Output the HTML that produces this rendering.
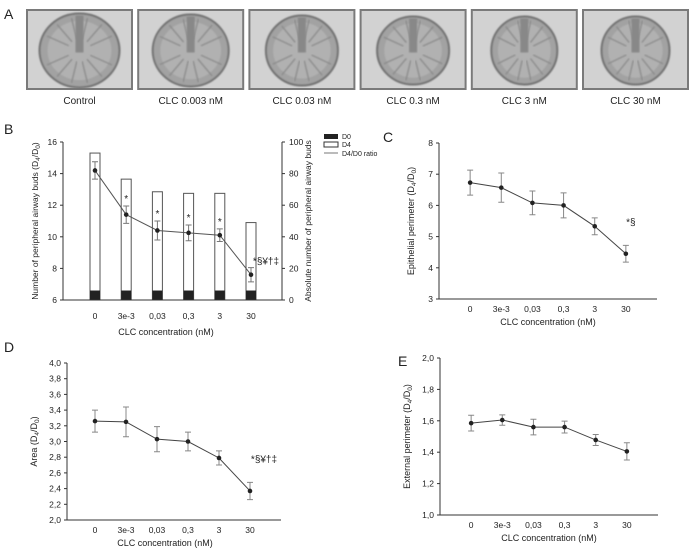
<!DOCTYPE html>
<html><head><meta charset="utf-8">
<style>
body{margin:0;background:#fff;width:689px;height:553px;overflow:hidden;font-family:"Liberation Sans",sans-serif;}
svg text{font-family:"Liberation Sans",sans-serif;fill:#222;}
</style></head>
<body>
<svg id="fig" width="689" height="553" viewBox="0 0 689 553" xmlns="http://www.w3.org/2000/svg">
<defs>
<filter id="blur1"><feGaussianBlur stdDeviation="0.8"/></filter>
</defs>
<text x="4" y="19" font-size="14">A</text>
<g id="photos"></g>
<text x="4" y="134" font-size="14">B</text>
<text x="383" y="142" font-size="14">C</text>
<text x="4" y="352" font-size="14">D</text>
<text x="398" y="366" font-size="14">E</text>
<g id="chartB"></g>
<g id="chartC"></g>
<g id="chartD"></g>
<g id="chartE"></g>
</svg>
<script>
const categories = ["0","3e-3","0,03","0,3","3","30"];
const photoLabels = ["Control","CLC 0.003 nM","CLC 0.03 nM","CLC 0.3 nM","CLC 3 nM","CLC 30 nM"];
// Panel B
const bD0 = [6,6,6,6,6,6];
const bD4 = [93,76.5,68.5,67.5,67.5,49];
const bRatio = [14.2,11.4,10.4,10.25,10.1,7.6];
const bRatioErr = [0.55,0.55,0.6,0.5,0.4,0.45];
const bAnnot = ["","*","*","*","*","*§¥†‡"];
const bLeftTicks = ["6","8","10","12","14","16"];
const bRightTicks = ["0","20","40","60","80","100"];
// Panel C
const cVals = [6.73,6.57,6.08,6.0,5.33,4.45];
const cErr = [0.4,0.47,0.38,0.4,0.27,0.27];
const cAnnot = ["","","","","","*§"];
const cTicks = ["3","4","5","6","7","8"];
// Panel D
const dVals = [3.26,3.25,3.03,3.0,2.79,2.37];
const dErr = [0.14,0.19,0.16,0.12,0.09,0.11];
const dAnnot = ["","","","","","*§¥†‡"];
const dTicks = ["2,0","2,2","2,4","2,6","2,8","3,0","3,2","3,4","3,6","3,8","4,0"];
// Panel E
const eVals = [1.585,1.605,1.56,1.56,1.478,1.405];
const eErr = [0.05,0.033,0.05,0.038,0.035,0.055];
const eTicks = ["1,0","1,2","1,4","1,6","1,8","2,0"];

const NS="http://www.w3.org/2000/svg";
function mk(parent,tag,attrs,text){const e=document.createElementNS(NS,tag);for(const k in attrs)e.setAttribute(k,attrs[k]);if(text!==undefined)e.textContent=text;parent.appendChild(e);return e;}

// Photos
const ph=document.getElementById('photos');
photoLabels.forEach((lab,i)=>{
  const x=27+i*111.2, y=10, w=105, h=79;
  const g=mk(ph,'g',{});
  
  
  mk(g,'rect',{x:x,y:y,width:w,height:h,fill:'#d2d2d2',stroke:'#7a7a7a','stroke-width':2});
  const cx=x+w/2, cy=y+h/2+1;
  const rx=[40,38,36,36,33,34][i], ry=[37,36,35,34,34,34][i];
  mk(g,'ellipse',{cx:cx,cy:cy,rx:rx,ry:ry,fill:'#a2a2a2',stroke:'#707070','stroke-width':2,filter:'url(#blur1)'});
  mk(g,'ellipse',{cx:cx,cy:cy,rx:rx*0.8,ry:ry*0.8,fill:'#b8b8b8',opacity:0.7,filter:'url(#blur1)'});
  for(let k=0;k<14;k++){const a=k/14*Math.PI*2;
    mk(g,'line',{x1:cx+Math.cos(a)*rx*0.3,y1:cy+Math.sin(a)*ry*0.3,x2:cx+Math.cos(a)*rx*0.9,y2:cy+Math.sin(a)*ry*0.9,stroke:'#8a8a8a','stroke-width':1.3,filter:'url(#blur1)'});}
  mk(g,'rect',{x:cx-4,y:cy-ry+2,width:8,height:ry,fill:'#888',filter:'url(#blur1)'});
  const t=mk(g,'text',{x:cx,y:104,'font-size':10,'text-anchor':'middle'},lab);
  
  
});

function lineChart(gid,o){
  const g=document.getElementById(gid);
  const xs=i=>o.x0+(o.x1-o.x0)*(i+1)/(categories.length+1);
  const ys=v=>o.yB+(v-o.min)/(o.max-o.min)*(o.yT-o.yB);
  const ya=mk(g,'line',{x1:o.ax,y1:o.yT,x2:o.ax,y2:o.yB,stroke:'#333','stroke-width':1});
  
  const xa=mk(g,'line',{x1:o.ax,y1:o.yB,x2:o.x1,y2:o.yB,stroke:'#333','stroke-width':1});
  
  o.ticks.forEach((t,i)=>{const y=o.yB+(o.yT-o.yB)*i/(o.ticks.length-1);
    mk(g,'line',{x1:o.ax-3,y1:y,x2:o.ax,y2:y,stroke:'#333'});
    const tt=mk(g,'text',{x:o.ax-6,y:y+3,'font-size':8.5,'text-anchor':'end'},t);
    });
  categories.forEach((c,i)=>{const tt=mk(g,'text',{x:xs(i),y:o.yB+13,'font-size':8.5,'text-anchor':'middle'},c);
    });
  const xt=mk(g,'text',{x:o.titleX,y:o.yB+26,'font-size':9,'text-anchor':'middle'},'CLC concentration (nM)');
  
  const yt=mk(g,'text',{x:0,y:0,'font-size':9,'text-anchor':'middle',transform:`translate(${o.ytX},${(o.yT+o.yB)/2}) rotate(-90)`});
  yt.innerHTML=o.ytitle;
  
  let pts=o.vals.map((v,i)=>xs(i)+','+ys(v)).join(' ');
  const pl=mk(g,'polyline',{points:pts,fill:'none',stroke:'#444','stroke-width':1});
  
  o.vals.forEach((v,i)=>{const x=xs(i),e=o.err[i];
    const eb=mk(g,'path',{d:`M${x},${ys(v-e)}V${ys(v+e)}M${x-3},${ys(v-e)}h6M${x-3},${ys(v+e)}h6`,stroke:'#888','stroke-width':1,fill:'none'});
    
    const p=mk(g,'circle',{cx:x,cy:ys(v),r:2.3,fill:'#222'});
    
    if(o.annot&&o.annot[i]){const a=mk(g,'text',{x:x+o.annDx,y:ys(v+e)-o.annDy,'font-size':10,'text-anchor':'middle'},o.annot[i]);
      }
  });
  return {xs,ys,g};
}

const sub=(a)=>`${a} (D<tspan font-size="6.5" dy="2">4</tspan><tspan dy="-2">/D</tspan><tspan font-size="6.5" dy="2">0</tspan><tspan dy="-2">)</tspan>`;

// Panel B
(function(){
  const g=document.getElementById('chartB');
  const AX=63;
  const xs=i=>95+i*31.2;
  const yR=v=>300+v/100*(142-300);
  bD4.forEach((v,i)=>{const r=mk(g,'rect',{x:xs(i)-5,y:yR(v),width:10,height:300-yR(v),fill:'#fff',stroke:'#555','stroke-width':1});
    });
  bD0.forEach((v,i)=>{const r=mk(g,'rect',{x:xs(i)-5,y:yR(v),width:10,height:300-yR(v),fill:'#222'});
    });
  mk(g,'line',{x1:282,y1:142,x2:282,y2:300,stroke:'#333'});
  bRightTicks.forEach((t,i)=>{const y=300+(142-300)*i/(bRightTicks.length-1);
    mk(g,'line',{x1:282,y1:y,x2:285,y2:y,stroke:'#333'});
    const tt=mk(g,'text',{x:289,y:y+3,'font-size':8.5},t);
    });
  const rt=mk(g,'text',{x:0,y:0,'font-size':8.5,'text-anchor':'middle',transform:'translate(311,221) rotate(-90)'},'Absolute number of peripheral airway buds');
  
  const ys=v=>300+(v-6)/10*(142-300);
  mk(g,'line',{x1:AX,y1:142,x2:AX,y2:300,stroke:'#333'});
  mk(g,'line',{x1:AX,y1:300,x2:282,y2:300,stroke:'#333'});
  bLeftTicks.forEach((t,i)=>{const y=300+(142-300)*i/(bLeftTicks.length-1);
    mk(g,'line',{x1:AX-3,y1:y,x2:AX,y2:y,stroke:'#333'});
    const tt=mk(g,'text',{x:AX-6,y:y+3,'font-size':8.5,'text-anchor':'end'},t);
    });
  categories.forEach((c,i)=>{const tt=mk(g,'text',{x:xs(i),y:319,'font-size':8.5,'text-anchor':'middle'},c);
    });
  const xt=mk(g,'text',{x:166,y:335,'font-size':9,'text-anchor':'middle'},'CLC concentration (nM)');
  
  const yt=mk(g,'text',{x:0,y:0,'font-size':8.5,'text-anchor':'middle',transform:'translate(38,221) rotate(-90)'});
  yt.innerHTML=sub('Number of peripheral airway buds');
  
  const pl=mk(g,'polyline',{points:bRatio.map((v,i)=>xs(i)+','+ys(v)).join(' '),fill:'none',stroke:'#555','stroke-width':1});
  
  bRatio.forEach((v,i)=>{const x=xs(i),e=bRatioErr[i];
    const eb=mk(g,'path',{d:`M${x},${ys(v-e)}V${ys(v+e)}M${x-3},${ys(v-e)}h6M${x-3},${ys(v+e)}h6`,stroke:'#777',fill:'none'});
    
    const p=mk(g,'circle',{cx:x,cy:ys(v),r:2.3,fill:'#222'});
    
    if(bAnnot[i]){const a=mk(g,'text',{x:i==5?x+15:x,y:i==5?ys(v)-10:ys(v+e)-4,'font-size':10,'text-anchor':'middle'},bAnnot[i]);
      }
  });
  const lg=mk(g,'g',{});
  
  mk(lg,'rect',{x:324,y:134,width:14,height:5,fill:'#222'});
  mk(lg,'text',{x:342,y:139,'font-size':7},'D0');
  mk(lg,'rect',{x:324,y:142,width:14,height:5,fill:'#fff',stroke:'#333'});
  mk(lg,'text',{x:342,y:147,'font-size':7},'D4');
  mk(lg,'line',{x1:324,y1:153,x2:338,y2:153,stroke:'#777'});
  mk(lg,'text',{x:342,y:156,'font-size':7},'D4/D0 ratio');
})();

lineChart('chartC',{x0:439,x1:657,ax:439,yT:143,yB:299,min:3,max:8,ticks:cTicks,vals:cVals,err:cErr,annot:cAnnot,annDx:5,annDy:20,titleX:548,ytX:414,ytitle:sub('Epithelial perimeter')});
lineChart('chartD',{x0:64,x1:281,ax:67,yT:363,yB:520,min:2,max:4,ticks:dTicks,vals:dVals,err:dErr,annot:dAnnot,annDx:14,annDy:20,titleX:165,ytX:37,ytitle:sub('Area')});
lineChart('chartE',{x0:440,x1:658,ax:440,yT:358,yB:515,min:1,max:2,ticks:eTicks,vals:eVals,err:eErr,annot:null,titleX:549,ytX:410,ytitle:sub('External perimeter')});
</script>
</body></html>
